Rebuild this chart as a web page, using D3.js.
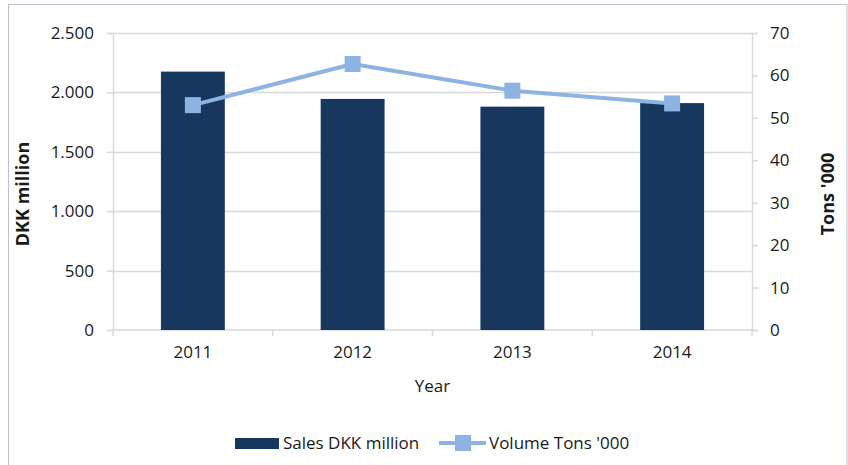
<!DOCTYPE html>
<html>
<head>
<meta charset="utf-8">
<script src="https://cdn.jsdelivr.net/npm/d3@7"></script>
<style>
  html, body { margin: 0; padding: 0; background: #fff; }
  svg { display: block; font-family: "Open Sans", "Noto Sans", sans-serif; }
</style>
</head>
<body>
<svg id="chart" width="848" height="465"></svg>
<script>
// Annual sales and volume, 2011–2014
const years = ["2011", "2012", "2013", "2014"];
const salesDKK = [2175, 1945, 1880, 1910];   // DKK million
const volumeTons = [53.0, 62.7, 56.4, 53.4]; // tons '000
const leftTicks = [0, 500, 1000, 1500, 2000, 2500];
const rightTicks = [0, 10, 20, 30, 40, 50, 60, 70];

const barColor = "#17375E";
const lineColor = "#8DB3E2";
const gridColor = "#D9D9D9";
const textColor = "#1a1a1a";
const fontFamily = "'Open Sans', sans-serif";
const fontSize = 17;

const svg = d3.select("#chart");

// outer chart frame
svg.append("rect")
  .attr("x", 8.5).attr("y", 4.5)
  .attr("width", 838.5).attr("height", 470)
  .attr("fill", "#fff")
  .attr("stroke", "#B9C0D6").attr("stroke-width", 1);

const plot = { left: 113, right: 752, top: 33, bottom: 330 };

const x = d3.scaleBand().domain(years)
  .range([plot.left, plot.right]).paddingInner(0.6).paddingOuter(0.3);
const xOuter = d3.scaleBand().domain(years).range([plot.left, plot.right]);
const yL = d3.scaleLinear().domain([0, 2500]).range([plot.bottom, plot.top]);
const yR = d3.scaleLinear().domain([0, 70]).range([plot.bottom, plot.top]);

// horizontal gridlines
svg.append("g").selectAll("line").data(leftTicks.filter(d => d > 0)).join("line")
  .attr("x1", plot.left).attr("x2", plot.right)
  .attr("y1", d => Math.round(yL(d)) + 0.5).attr("y2", d => Math.round(yL(d)) + 0.5)
  .attr("stroke", gridColor).attr("stroke-width", 1.5);

function styleTicks(g) {
  g.select(".domain").attr("stroke", gridColor).attr("stroke-width", 1.5);
  g.selectAll(".tick line").attr("stroke", gridColor).attr("stroke-width", 1.5);
  g.selectAll(".tick text").attr("fill", textColor).attr("font-size", fontSize)
    .attr("font-family", fontFamily);
}

// left axis
const gL = svg.append("g").attr("transform", `translate(${plot.left},0)`)
  .call(d3.axisLeft(yL).tickValues(leftTicks).tickSize(6).tickPadding(13)
    .tickFormat(d => d3.format(",")(d).replace(/,/g, ".")));
styleTicks(gL);

// right axis
const gR = svg.append("g").attr("transform", `translate(${plot.right},0)`)
  .call(d3.axisRight(yR).tickValues(rightTicks).tickSize(6).tickPadding(12));
styleTicks(gR);

// bottom axis with tick marks at category boundaries
const gB = svg.append("g").attr("transform", `translate(0,${plot.bottom})`)
  .call(d3.axisBottom(x).tickSize(0).tickPadding(16));
styleTicks(gB);
gB.select(".domain").attr("d", `M${plot.left},0H${plot.right}`);
const bounds = years.map(d => xOuter(d)).concat([plot.right]);
gB.selectAll("line.sep").data(bounds).join("line").attr("class", "sep")
  .attr("x1", d => d).attr("x2", d => d).attr("y1", 0).attr("y2", 6)
  .attr("stroke", gridColor).attr("stroke-width", 1.5);

// bars
svg.append("g").selectAll("rect").data(years).join("rect")
  .attr("x", d => x(d)).attr("width", x.bandwidth())
  .attr("y", (d, i) => yL(salesDKK[i]))
  .attr("height", (d, i) => yL(0) - yL(salesDKK[i]))
  .attr("fill", barColor);

// volume line
const cx = d => x(d) + x.bandwidth() / 2;
svg.append("path")
  .datum(years)
  .attr("fill", "none").attr("stroke", lineColor).attr("stroke-width", 4)
  .attr("stroke-linejoin", "round")
  .attr("d", d3.line().x(d => cx(d)).y((d, i) => yR(volumeTons[i])));
svg.append("g").selectAll("rect").data(years).join("rect")
  .attr("x", d => cx(d) - 8).attr("y", (d, i) => yR(volumeTons[i]) - 8)
  .attr("width", 16).attr("height", 16)
  .attr("fill", lineColor);

// axis titles
const titleY = 194;
svg.append("text")
  .attr("transform", `translate(29,${titleY}) rotate(-90)`)
  .attr("text-anchor", "middle").attr("font-size", 18).attr("font-weight", "bold")
  .attr("fill", textColor).text("DKK million");
svg.append("text")
  .attr("transform", `translate(834,${titleY}) rotate(-90)`)
  .attr("text-anchor", "middle").attr("font-size", 18).attr("font-weight", "bold")
  .attr("fill", textColor).text("Tons '000");
svg.append("text")
  .attr("x", (plot.left + plot.right) / 2).attr("y", 392)
  .attr("text-anchor", "middle").attr("font-size", fontSize)
  .attr("fill", textColor).text("Year");

// legend
const lg = svg.append("g").attr("transform", "translate(0,443)");
lg.append("rect").attr("x", 235).attr("y", -5).attr("width", 44).attr("height", 11)
  .attr("fill", barColor);
lg.append("text").attr("x", 283).attr("y", 0).attr("dy", "0.35em")
  .attr("font-size", fontSize).attr("fill", textColor).text("Sales DKK million");
lg.append("line").attr("x1", 439).attr("x2", 486).attr("y1", 0).attr("y2", 0)
  .attr("stroke", lineColor).attr("stroke-width", 4);
lg.append("rect").attr("x", 455).attr("y", -8).attr("width", 16).attr("height", 16)
  .attr("fill", lineColor);
lg.append("text").attr("x", 489).attr("y", 0).attr("dy", "0.35em")
  .attr("font-size", fontSize).attr("fill", textColor).text("Volume Tons '000");
</script>
</body>
</html>
